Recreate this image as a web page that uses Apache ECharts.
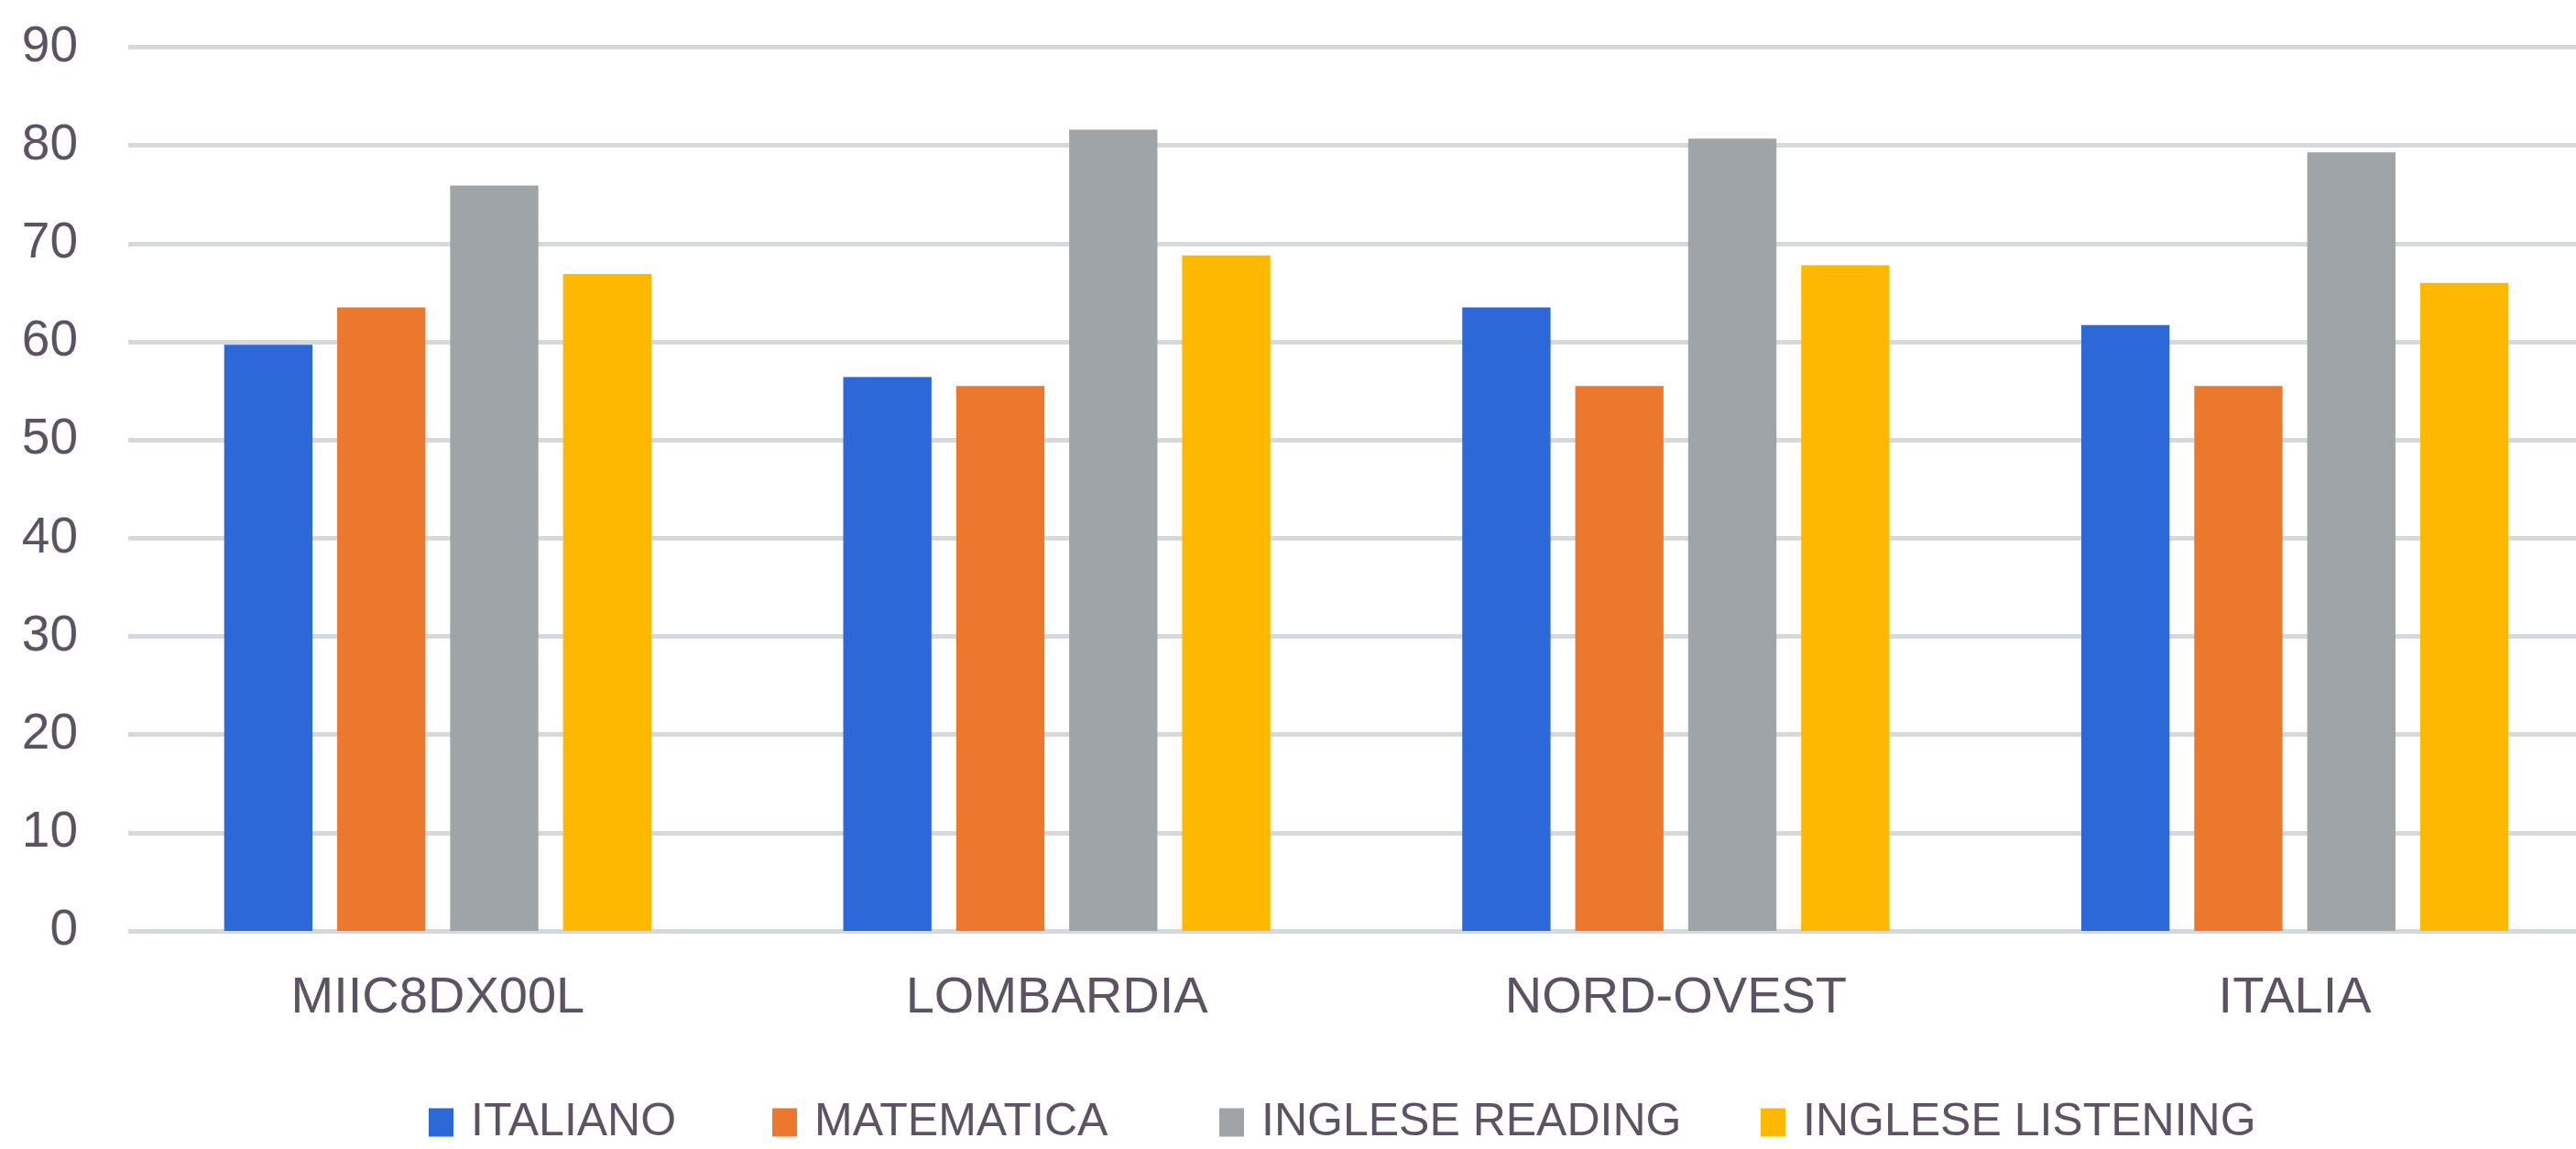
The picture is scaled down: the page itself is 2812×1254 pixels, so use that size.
<!DOCTYPE html>
<html>
<head>
<meta charset="utf-8">
<script src="https://cdn.jsdelivr.net/npm/echarts@6/dist/echarts.min.js"></script>
<style>
html,body{margin:0;padding:0;background:#fff;overflow:hidden;width:2812px;height:1254px;}
#chart{width:2843px;height:1254px;}
</style>
</head>
<body>
<div id="chart"></div>
<script>
const categories = ['MIIC8DX00L', 'LOMBARDIA', 'NORD-OVEST', 'ITALIA'];
const seriesNames = ['ITALIANO', 'MATEMATICA', 'INGLESE READING', 'INGLESE LISTENING'];
const italiano = [59.7, 56.4, 63.5, 61.7];
const matematica = [63.5, 55.5, 55.5, 55.5];
const ingleseReading = [75.9, 81.6, 80.7, 79.3];
const ingleseListening = [66.9, 68.8, 67.8, 66.0];
const yTicks = [0, 10, 20, 30, 40, 50, 60, 70, 80, 90];

const colors = ['#2d68d9', '#ec782e', '#9fa4a8', '#fdb900'];
const textColor = '#5d5263';
const fontFamily = "'Liberation Sans', Arial, sans-serif";
const legendLefts = [468, 843, 1331, 1922];

const chart = echarts.init(document.getElementById('chart'), null, {renderer: 'canvas'});
const values = [italiano, matematica, ingleseReading, ingleseListening];

chart.setOption({
  animation: false,
  backgroundColor: '#ffffff',
  color: colors,
  grid: {left: 140, right: 0, top: 51.5, bottom: 238, containLabel: false},
  legend: seriesNames.map((name, i) => ({
    data: [name],
    left: legendLefts[i],
    top: 1200,
    itemWidth: 27,
    itemHeight: 31,
    icon: 'rect',
    padding: 0,
    textStyle: {color: textColor, fontSize: 50, fontFamily: fontFamily, padding: [0, 0, 0, 14]}
  })),
  xAxis: {
    type: 'category',
    data: categories,
    axisLine: {show: false},
    axisTick: {show: false},
    axisLabel: {color: textColor, fontSize: 56, fontFamily: fontFamily, margin: 46}
  },
  yAxis: {
    type: 'value',
    min: yTicks[0],
    max: yTicks[yTicks.length - 1],
    interval: 10,
    axisLine: {show: false},
    axisTick: {show: false},
    axisLabel: {color: textColor, fontSize: 55, fontFamily: fontFamily, margin: 55},
    splitLine: {lineStyle: {color: '#d5d9dc', width: 5}}
  },
  series: seriesNames.map((name, i) => ({
    name: name,
    type: 'bar',
    data: values[i],
    barGap: '28%',
    barCategoryGap: '31%',
    itemStyle: {color: colors[i]}
  }))
});
</script>
</body>
</html>
